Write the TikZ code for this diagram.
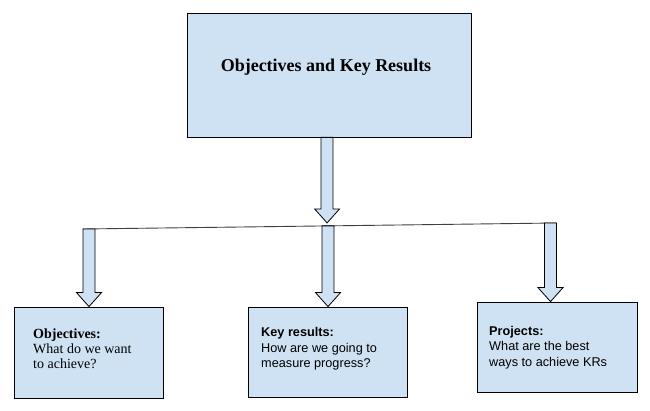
\documentclass[tikz,border=0pt]{standalone}
\usepackage{fontspec}
\setmainfont{Liberation Serif}
\newfontfamily\arialfont{Liberation Sans}
\usetikzlibrary{calc,shadows}
\definecolor{boxblue}{HTML}{CFE2F3}
\newcommand\blockarrow[2]{%
  \draw[arrowshape] let \p1=(#1), \p2=(#2) in
    ({\x1-6pt},{\y1}) -- ({\x1+6pt},{\y1}) -- ({\x1+6pt},{\y2+14pt}) --
    ({\x1+12.5pt},{\y2+14pt}) -- ({\x1},{\y2}) -- ({\x1-12.5pt},{\y2+14pt}) --
    ({\x1-6pt},{\y2+14pt}) -- cycle;}
\begin{document}
\begin{tikzpicture}[x=1pt,y=-1pt,
  card/.style={rectangle, draw=black, fill=boxblue, line width=0.8pt, inner sep=0pt,
    general shadow={fill=black!45, shadow xshift=1pt, shadow yshift=-1pt}},
  arrowshape/.style={draw=black, fill=boxblue, line width=0.8pt, line join=miter},
  serifbody/.style={anchor=north west, align=left, inner sep=0pt, font=\fontsize{14}{15}\selectfont},
  sansbody/.style={anchor=north west, align=left, inner sep=0pt, font=\arialfont\fontsize{12.7}{15.5}\selectfont},
  bar/.style={draw=black!75, line width=0.9pt}]
\useasboundingbox (0,0) rectangle (650,411);
\fill[white] (0,0) rectangle (650,411);

% boxes
\node[card, minimum width=284pt, minimum height=124pt] (top) at (329,75) {};
\node[anchor=base, inner sep=0pt, font=\bfseries\fontsize{18}{20}\selectfont] (title) at (326,72) {Objectives and Key Results};

\node[card, minimum width=149pt, minimum height=91pt] (obj) at (88.5,352.5) {};
\node[card, minimum width=159pt, minimum height=90pt] (kr) at (327.5,352) {};
\node[card, minimum width=160pt, minimum height=90pt] (proj) at (557,347) {};

\node[serifbody] (objtext) at (33,328.5) {\textbf{Objectives:}\\What do we want\\to achieve?};
\node[sansbody] (krtext) at (261,327.5) {\textbf{Key results:}\\How are we going to\\measure progress?};
\node[sansbody] (projtext) at (489,326) {\textbf{Projects:}\\What are the best\\ways to achieve KRs};

% bar
\coordinate (barL) at (83,229);
\coordinate (barR) at (556,223);
\draw[bar] (barL) -- (barR);
\coordinate (hub) at ($(barL)!0.516!(barR)$);
\coordinate (s1) at ($(barL)!0.0127!(barR)$);
\coordinate (s2) at ($(barL)!0.518!(barR)$);
\coordinate (s3) at ($(barL)!0.9884!(barR)$);

% arrows
\blockarrow{hub |- top.south}{$(hub)+(0,-3)$}
\blockarrow{s1}{s1 |- obj.north}
\blockarrow{s2}{s2 |- kr.north}
\blockarrow{s3}{s3 |- proj.north}
\end{tikzpicture}
\end{document}
